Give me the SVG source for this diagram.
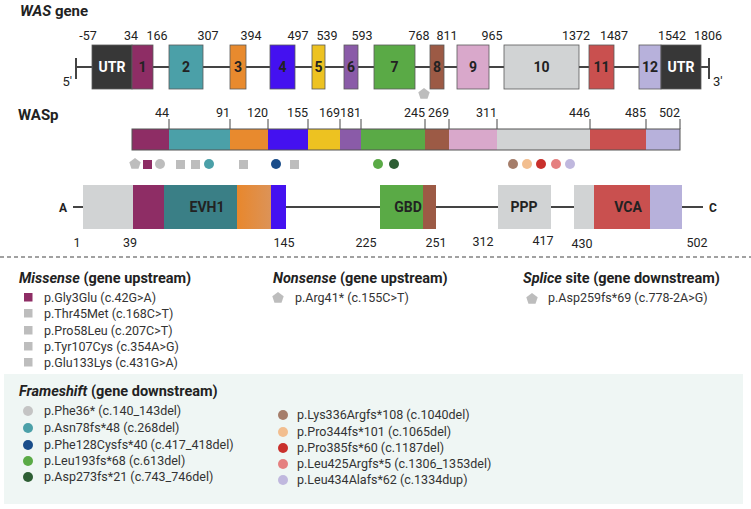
<svg xmlns="http://www.w3.org/2000/svg" width="751" height="509" viewBox="0 0 751 509">
<defs>
<style>
text{font-family:Roboto,"Liberation Sans",Arial,sans-serif;fill:#222}
.num{font-size:12.5px;text-anchor:middle}
.nume{font-size:12.5px;text-anchor:end}
.ex{font-size:14px;font-weight:bold;text-anchor:middle}
.exw{font-size:14px;font-weight:bold;text-anchor:middle;fill:#fff}
.box{stroke:#5a5a5a;stroke-width:0.8}
.bb{stroke:#444;stroke-width:2;fill:none}
.tk{stroke:#444;stroke-width:1}
.h{font-size:14.5px;font-weight:bold}
.li{font-size:12.5px;fill:#333}
.ttl{font-size:15px;font-weight:bold}
.end{font-size:12px;font-weight:bold;text-anchor:middle}
.g{fill:#bdbdbd}
</style>
<path id="pent" d="M0,-6 L5.7,-1.85 L3.53,4.85 L-3.53,4.85 L-5.7,-1.85 Z"/>
<linearGradient id="og" x1="0" x2="1" y1="0" y2="0"><stop offset="0" stop-color="#E8872C"/><stop offset="1" stop-color="#DC9358"/></linearGradient>
</defs>
<rect width="751" height="509" fill="#fff"/>

<!-- Gene -->
<g id="gene-title"><text class="ttl" x="20" y="16"><tspan font-style="italic">WAS</tspan> gene</text></g>
<g id="connectors">
<line class="bb" x1="76" y1="67" x2="709" y2="67"/>
<line class="bb" x1="76" y1="58" x2="76" y2="79"/>
<line class="bb" x1="709" y1="58" x2="709" y2="79"/>
<line class="bb" x1="73" y1="207" x2="703" y2="207"/>
<g class="tk">
<line x1="169" y1="119" x2="169" y2="129"/><line x1="230" y1="119" x2="230" y2="129"/>
<line x1="268" y1="119" x2="268" y2="129"/><line x1="308" y1="119" x2="308" y2="129"/>
<line x1="340" y1="119" x2="340" y2="129"/><line x1="361" y1="119" x2="361" y2="129"/>
<line x1="425" y1="119" x2="425" y2="129"/><line x1="449" y1="119" x2="449" y2="129"/>
<line x1="497" y1="119" x2="497" y2="129"/><line x1="590" y1="119" x2="590" y2="129"/>
<line x1="646" y1="119" x2="646" y2="129"/><line x1="680" y1="119" x2="680" y2="129"/>
</g>
</g>
<g id="gene-ends">
<text x="72" y="86" font-size="13" text-anchor="end">5'</text>
<text x="713" y="86" font-size="13">3'</text>
</g>
<g id="gene-numbers">
<text class="num" x="88" y="40">-57</text><text class="num" x="131" y="40">34</text>
<text class="num" x="157" y="40">166</text><text class="num" x="208" y="40">307</text>
<text class="num" x="251" y="40">394</text><text class="num" x="298" y="40">497</text>
<text class="num" x="327" y="40">539</text><text class="num" x="362" y="40">593</text>
<text class="num" x="419" y="40">768</text><text class="num" x="447" y="40">811</text>
<text class="num" x="492" y="40">965</text><text class="num" x="576" y="40">1372</text>
<text class="num" x="614" y="40">1487</text><text class="num" x="672" y="40">1542</text>
<text class="num" x="708" y="40">1806</text>
</g>
<g id="utr5"><rect class="box" x="92" y="45" width="40" height="44" fill="#373737"/><text class="exw" x="112" y="72">UTR</text></g>
<g id="exon1"><rect class="box" x="132" y="45" width="21" height="44" fill="#8E2D65"/><text class="ex" x="142.5" y="72">1</text></g>
<g id="exon2"><rect class="box" x="169" y="45" width="34" height="44" fill="#4BA0A8"/><text class="ex" x="186" y="72">2</text></g>
<g id="exon3"><rect class="box" x="230" y="45" width="16" height="44" fill="#E88A2E"/><text class="ex" x="238" y="72">3</text></g>
<g id="exon4"><rect class="box" x="270" y="45" width="25" height="44" fill="#4411F0"/><text class="ex" x="282.5" y="72">4</text></g>
<g id="exon5"><rect class="box" x="312" y="45" width="13" height="44" fill="#EDC221"/><text class="ex" x="318.5" y="72">5</text></g>
<g id="exon6"><rect class="box" x="344" y="45" width="14" height="44" fill="#8A5BA8"/><text class="ex" x="351" y="72">6</text></g>
<g id="exon7"><rect class="box" x="374" y="45" width="41" height="44" fill="#5AAA46"/><text class="ex" x="394.5" y="72">7</text></g>
<g id="exon8"><rect class="box" x="430" y="45" width="14" height="44" fill="#9C5A45"/><text class="ex" x="437" y="72">8</text></g>
<g id="exon9"><rect class="box" x="457" y="45" width="32" height="44" fill="#D9A8CB"/><text class="ex" x="473" y="72">9</text></g>
<g id="exon10"><rect class="box" x="504" y="45" width="75" height="44" fill="#D1D3D4"/><text class="ex" x="541.5" y="72">10</text></g>
<g id="exon11"><rect class="box" x="589" y="45" width="25" height="44" fill="#C9504F"/><text class="ex" x="601.5" y="72">11</text></g>
<g id="exon12"><rect class="box" x="639" y="45" width="22" height="44" fill="#B7B1DB"/><text class="ex" x="650" y="72">12</text></g>
<g id="utr3"><rect class="box" x="661" y="45" width="40" height="44" fill="#373737"/><text class="exw" x="681" y="72">UTR</text></g>
<g id="gene-splice-marker"><use href="#pent" x="424" y="94" class="g"/></g>

<!-- WASp bar -->
<g id="wasp-title"><text class="ttl" x="18" y="120">WASp</text></g>
<g id="wasp-numbers">
<text class="nume" x="169" y="117">44</text><text class="nume" x="230" y="117">91</text>
<text class="nume" x="268" y="117">120</text><text class="nume" x="308" y="117">155</text>
<text class="nume" x="340" y="117">169</text><text class="nume" x="361" y="117">181</text>
<text class="nume" x="425" y="117">245</text><text class="nume" x="449" y="117">269</text>
<text class="nume" x="497" y="117">311</text><text class="nume" x="590" y="117">446</text>
<text class="nume" x="646" y="117">485</text><text class="nume" x="680" y="117">502</text>
</g>
<g id="wasp-bar">
<rect x="132" y="129" width="37" height="21" fill="#8E2D65"/>
<rect x="169" y="129" width="61" height="21" fill="#4BA0A8"/>
<rect x="230" y="129" width="38" height="21" fill="#E88A2E"/>
<rect x="268" y="129" width="40" height="21" fill="#4411F0"/>
<rect x="308" y="129" width="32" height="21" fill="#EDC221"/>
<rect x="340" y="129" width="21" height="21" fill="#8A5BA8"/>
<rect x="361" y="129" width="64" height="21" fill="#5AAA46"/>
<rect x="425" y="129" width="24" height="21" fill="#9C5A45"/>
<rect x="449" y="129" width="48" height="21" fill="#D9A8CB"/>
<rect x="497" y="129" width="93" height="21" fill="#D1D3D4"/>
<rect x="590" y="129" width="56" height="21" fill="#C9504F"/>
<rect x="646" y="129" width="34" height="21" fill="#B7B1DB"/>
<rect x="132" y="129" width="548" height="21" fill="none" stroke="#555" stroke-width="1"/>
</g>
<g id="wasp-markers">
<use href="#pent" x="135" y="164" class="g"/>
<rect x="143" y="160" width="9" height="9" fill="#8E2D65"/>
<circle cx="160" cy="164" r="5" fill="#bdbdbd"/>
<rect x="176" y="160" width="9" height="9" class="g"/>
<rect x="191" y="160" width="9" height="9" class="g"/>
<circle cx="209" cy="164" r="5" fill="#4BA0A8"/>
<rect x="239" y="160" width="9" height="9" class="g"/>
<circle cx="276" cy="164" r="5" fill="#1A4D8A"/>
<rect x="290" y="160" width="9" height="9" class="g"/>
<circle cx="378" cy="164" r="5" fill="#5AAA46"/>
<circle cx="394" cy="164" r="5" fill="#2E5E34"/>
<circle cx="513" cy="164" r="5" fill="#A57D6A"/>
<circle cx="527" cy="164" r="5" fill="#F2BE8F"/>
<circle cx="541" cy="164" r="5" fill="#C9302C"/>
<circle cx="556" cy="164" r="5" fill="#E58080"/>
<circle cx="570" cy="164" r="5" fill="#C0B8DE"/>
</g>

<!-- Domains -->
<g id="term-A"><text class="end" x="63" y="212">A</text></g>
<g id="term-C"><text class="end" x="713" y="212">C</text></g>
<g id="evh1">
<rect x="83" y="185" width="50" height="44" fill="#D1D3D4"/>
<rect x="133" y="185" width="31" height="44" fill="#8E2D65"/>
<rect x="164" y="185" width="73" height="44" fill="#3A7F86"/>
<rect x="237" y="185" width="34" height="44" fill="url(#og)"/>
<rect x="271" y="185" width="15" height="44" fill="#4411F0"/>
<text class="ex" x="207" y="212" fill="#16282a">EVH1</text>
</g>
<g id="gbd">
<rect x="380" y="185" width="43" height="44" fill="#5AAA46"/>
<rect x="423" y="185" width="13" height="44" fill="#9C5A45"/>
<text class="ex" x="408" y="212">GBD</text>
</g>
<g id="ppp">
<rect x="498" y="185" width="53" height="44" fill="#D1D3D4"/>
<text class="ex" x="524" y="212">PPP</text>
</g>
<g id="vca">
<rect x="574" y="185" width="20" height="44" fill="#D1D3D4"/>
<rect x="594" y="185" width="56" height="44" fill="#C9504F"/>
<rect x="650" y="185" width="32" height="44" fill="#B7B1DB"/>
<text class="ex" x="628" y="212">VCA</text>
</g>
<g id="domain-numbers">
<text class="num" x="77" y="247">1</text><text class="num" x="130" y="247">39</text>
<text class="num" x="284" y="247">145</text><text class="num" x="366" y="247">225</text>
<text class="num" x="436" y="247">251</text><text class="num" x="483" y="246">312</text>
<text class="num" x="543" y="245">417</text><text class="num" x="582" y="248">430</text>
<text class="num" x="697" y="247">502</text>
</g>
<line x1="0" y1="257" x2="751" y2="257" stroke="#444" stroke-width="1.2" stroke-dasharray="4 3"/>

<!-- Legend -->
<g id="legend-missense">
<text class="h" x="19" y="283"><tspan font-style="italic">Missense</tspan> (gene upstream)</text>
<rect x="24" y="293" width="8.5" height="8.5" fill="#8E2D65"/>
<rect x="24" y="309" width="8.5" height="8.5" class="g"/>
<rect x="24" y="326" width="8.5" height="8.5" class="g"/>
<rect x="24" y="342" width="8.5" height="8.5" class="g"/>
<rect x="24" y="358" width="8.5" height="8.5" class="g"/>
<text class="li" x="44" y="302">p.Gly3Glu (c.42G&gt;A)</text>
<text class="li" x="44" y="318">p.Thr45Met (c.168C&gt;T)</text>
<text class="li" x="44" y="335">p.Pro58Leu (c.207C&gt;T)</text>
<text class="li" x="44" y="351">p.Tyr107Cys (c.354A&gt;G)</text>
<text class="li" x="44" y="367">p.Glu133Lys (c.431G&gt;A)</text>
</g>
<g id="legend-nonsense">
<text class="h" x="273" y="283"><tspan font-style="italic">Nonsense</tspan> (gene upstream)</text>
<use href="#pent" x="278" y="298" class="g"/>
<text class="li" x="295" y="302">p.Arg41* (c.155C&gt;T)</text>
</g>
<g id="legend-splice">
<text class="h" x="523" y="283"><tspan font-style="italic">Splice</tspan> site (gene downstream)</text>
<use href="#pent" x="532" y="299" class="g"/>
<text class="li" x="548" y="302">p.Asp259fs*69 (c.778-2A&gt;G)</text>
</g>
<g id="legend-frameshift">
<rect x="4" y="374" width="739" height="130" fill="#EFF6F4"/>
<text class="h" x="19" y="396"><tspan font-style="italic">Frameshift</tspan> (gene downstream)</text>
<circle cx="28" cy="411" r="5" fill="#C4C4C4"/>
<circle cx="28" cy="428" r="5" fill="#4BA0A8"/>
<circle cx="28" cy="445" r="5" fill="#1A4D8A"/>
<circle cx="28" cy="461" r="5" fill="#5AAA46"/>
<circle cx="28" cy="477" r="5" fill="#2E5E34"/>
<text class="li" x="44" y="415">p.Phe36* (c.140_143del)</text>
<text class="li" x="44" y="432">p.Asn78fs*48 (c.268del)</text>
<text class="li" x="44" y="449">p.Phe128Cysfs*40 (c.417_418del)</text>
<text class="li" x="44" y="465">p.Leu193fs*68 (c.613del)</text>
<text class="li" x="44" y="481">p.Asp273fs*21 (c.743_746del)</text>
<circle cx="283" cy="415" r="5" fill="#A57D6A"/>
<circle cx="283" cy="432" r="5" fill="#F2BE8F"/>
<circle cx="283" cy="448" r="5" fill="#C9302C"/>
<circle cx="283" cy="464" r="5" fill="#E58080"/>
<circle cx="283" cy="480" r="5" fill="#C0B8DE"/>
<text class="li" x="297" y="419">p.Lys336Argfs*108 (c.1040del)</text>
<text class="li" x="297" y="436">p.Pro344fs*101 (c.1065del)</text>
<text class="li" x="297" y="452">p.Pro385fs*60 (c.1187del)</text>
<text class="li" x="297" y="468">p.Leu425Argfs*5 (c.1306_1353del)</text>
<text class="li" x="297" y="484">p.Leu434Alafs*62 (c.1334dup)</text>
</g>
</svg>
